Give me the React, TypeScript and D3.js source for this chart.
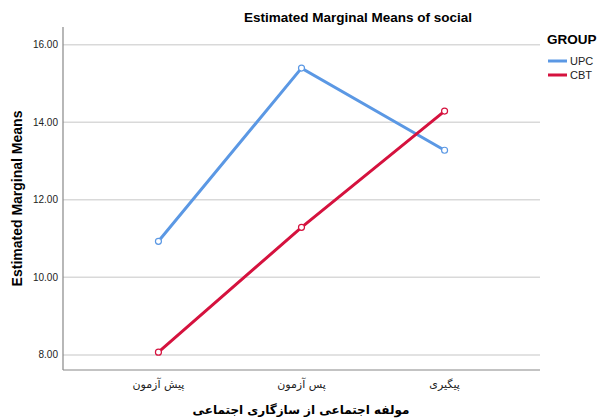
import React from "react";
import * as d3 from "d3";

const categories = ["پیش آزمون", "پس آزمون", "پیگیری"];
const seriesNames = ["UPC", "CBT"];
const upcValues = [10.93, 15.4, 13.28];
const cbtValues = [8.07, 11.29, 14.29];
const yTicks = [8, 10, 12, 14, 16];
const colors = ["#5b98e4", "#d5123e"];

const W = 597, H = 418;
const left = 63, right = 540, top = 27, bottom = 370;

export default function App() {
  const x = d3.scalePoint<string>().domain(categories).range([left, right]).padding(0.667);
  const y = d3.scaleLinear().domain([7.61, 16.46]).range([bottom, top]);
  const line = d3.line<number>().x((_, i) => x(categories[i])!).y((d) => y(d));
  const series = [upcValues, cbtValues];
  const font = "Arial, 'Liberation Sans', sans-serif";
  return (
    <svg width={W} height={H} style={{ position: "absolute", left: 0, top: 0, background: "#fff" }} fontFamily={font}>
      <rect width={W} height={H} fill="#fff" />
      <text x={358} y={22} textAnchor="middle" fontSize={13.5} fontWeight="bold" fill="#000">Estimated Marginal Means of social</text>
      {yTicks.map((t) => (
        <g key={t}>
          <line x1={left} x2={right} y1={y(t)} y2={y(t)} stroke="#d9d9d9" strokeWidth={1.5} />
          <text x={58} y={y(t) + 3.5} textAnchor="end" fontSize={10} fill="#222">{t.toFixed(2)}</text>
        </g>
      ))}
      <line x1={left} x2={left} y1={top} y2={bottom} stroke="#888" strokeWidth={1.2} />
      <line x1={left} x2={right} y1={bottom} y2={bottom} stroke="#888" strokeWidth={1.2} />
      {categories.map((c) => (
        <text key={c} x={x(c)} y={388} textAnchor="middle" fontSize={11} fill="#222" fontFamily="'DejaVu Sans', sans-serif" direction="rtl">{c}</text>
      ))}
      <text x={301} y={414} textAnchor="middle" fontSize={12} fontWeight="bold" fill="#000" fontFamily="'DejaVu Sans', sans-serif" direction="rtl">مولفه اجتماعی از سازگاری اجتماعی</text>
      <text transform={`translate(22, ${(top + bottom) / 2}) rotate(-90)`} textAnchor="middle" fontSize={14} fontWeight="bold" fill="#000">Estimated Marginal Means</text>
      {series.map((vals, si) => (
        <g key={si}>
          <path d={line(vals)!} fill="none" stroke={colors[si]} strokeWidth={3} />
          {vals.map((v, i) => (
            <circle key={i} cx={x(categories[i])} cy={y(v)} r={3} fill="#fff" stroke={colors[si]} strokeWidth={1.2} />
          ))}
        </g>
      ))}
      <text x={547} y={44} fontSize={13.5} fontWeight="bold" fill="#000">GROUP</text>
      {seriesNames.map((n, i) => (
        <g key={n}>
          <line x1={548} x2={567} y1={61 + i * 14} y2={61 + i * 14} stroke={colors[i]} strokeWidth={3} />
          <text x={570} y={65 + i * 14} fontSize={11} fill="#222">{n}</text>
        </g>
      ))}
    </svg>
  );
}
